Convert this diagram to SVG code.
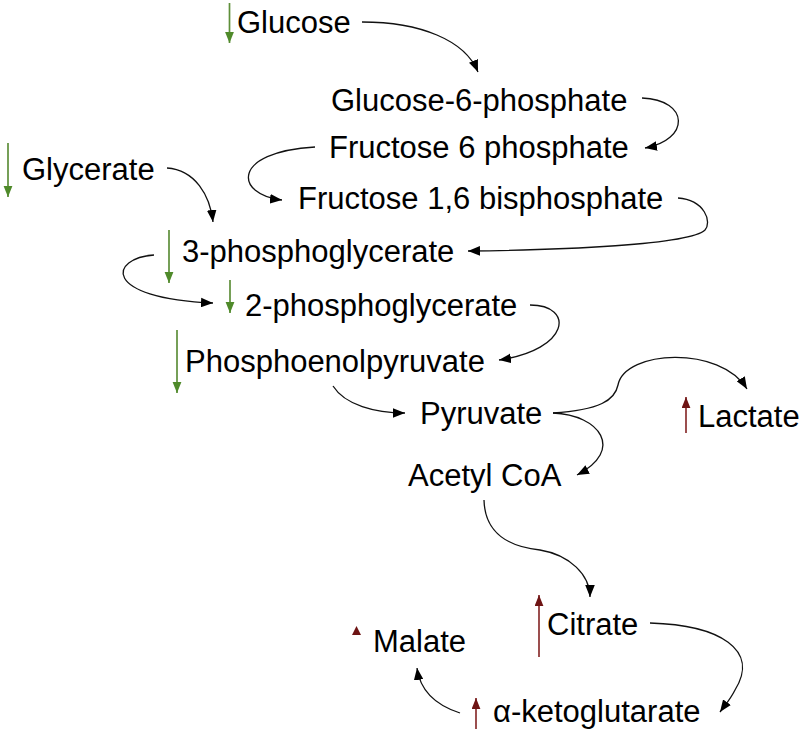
<svg xmlns="http://www.w3.org/2000/svg" width="800" height="732" viewBox="0 0 800 732">
<style>
text{font-family:"Liberation Sans",Arial,sans-serif;font-size:31px;fill:#000}
.c{fill:none;stroke:#111;stroke-width:1.3}
.g{stroke:#5e8f3a;stroke-width:1.7;fill:none}
.r{stroke:#8a3030;stroke-width:1.7;fill:none}
</style>
<defs>
<marker id="ab" viewBox="0 0 10 8" refX="10" refY="4" markerWidth="12" markerHeight="10" markerUnits="userSpaceOnUse" orient="auto"><path d="M0,0 L10,4 L0,8 z" fill="#000"/></marker>
<marker id="ag" viewBox="0 0 10 8" refX="10" refY="4" markerWidth="11" markerHeight="10" markerUnits="userSpaceOnUse" orient="auto"><path d="M0,0 L10,4 L0,8 z" fill="#4f8a2a"/></marker>
<marker id="ar" viewBox="0 0 10 8" refX="10" refY="4" markerWidth="11" markerHeight="9" markerUnits="userSpaceOnUse" orient="auto"><path d="M0,0 L10,4 L0,8 z" fill="#6e1414"/></marker>
</defs>
<g id="connectors">
<path class="c" marker-end="url(#ab)" d="M362,22 C420,22 465,40 478,72"/>
<path class="c" marker-end="url(#ab)" d="M642,98 C690,100 690,140 645,148"/>
<path class="c" marker-end="url(#ab)" d="M315,147 C230,152 235,195 282,200"/>
<path class="c" marker-end="url(#ab)" d="M678,198 C705,200 712,222 705,230 C690,245 560,250 468,251"/>
<path class="c" marker-end="url(#ab)" d="M167,168 C195,170 210,195 213,222"/>
<path class="c" marker-end="url(#ab)" d="M154,255 C110,258 100,298 213,303"/>
<path class="c" marker-end="url(#ab)" d="M530,305 C575,305 570,350 499,360"/>
<path class="c" marker-end="url(#ab)" d="M333,386 C345,405 375,413 405,413"/>
<path class="c" marker-end="url(#ab)" d="M553,413 C600,410 615,400 618,385 C625,350 720,345 747,389"/>
<path class="c" marker-end="url(#ab)" d="M553,413 C600,415 625,450 577,475"/>
<path class="c" marker-end="url(#ab)" d="M484,500 C485,540 520,548 540,550 C570,555 590,575 590,597"/>
<path class="c" marker-end="url(#ab)" d="M650,623 C720,625 760,650 735,690 C730,700 725,705 720,712"/>
<path class="c" marker-end="url(#ab)" d="M460,713 C435,705 420,690 417,668"/>
</g>
<g id="glucose"><line class="g" x1="229.5" y1="3" x2="229.5" y2="43" marker-end="url(#ag)"/><text x="237" y="33">Glucose</text></g>
<g id="g6p"><text x="331" y="111">Glucose-6-phosphate</text></g>
<g id="f6p"><text x="329" y="158">Fructose 6 phosphate</text></g>
<g id="f16bp"><text x="298" y="209">Fructose 1,6 bisphosphate</text></g>
<g id="glycerate"><line class="g" x1="8" y1="143" x2="8" y2="197" marker-end="url(#ag)"/><text x="22" y="180">Glycerate</text></g>
<g id="pg3"><line class="g" x1="169" y1="230" x2="169" y2="283" marker-end="url(#ag)"/><text x="182" y="262">3-phosphoglycerate</text></g>
<g id="pg2"><line class="g" x1="230" y1="280" x2="230" y2="313" marker-end="url(#ag)"/><text x="245" y="316">2-phosphoglycerate</text></g>
<g id="pep"><line class="g" x1="177" y1="330" x2="177" y2="393" marker-end="url(#ag)"/><text x="185" y="372">Phosphoenolpyruvate</text></g>
<g id="pyruvate"><text x="420" y="424">Pyruvate</text></g>
<g id="lactate"><line class="r" x1="686" y1="433" x2="686" y2="397" marker-end="url(#ar)"/><text x="698" y="427">Lactate</text></g>
<g id="acetylcoa"><text x="408" y="486">Acetyl CoA</text></g>
<g id="citrate"><line class="r" x1="539" y1="657" x2="539" y2="595" marker-end="url(#ar)"/><text x="547" y="635">Citrate</text></g>
<g id="malate"><polygon points="356.5,626 352,635 361,635" fill="#6e1414"/><text x="373" y="652">Malate</text></g>
<g id="akg"><line class="r" x1="476" y1="729" x2="476" y2="698" marker-end="url(#ar)"/><text x="493" y="722">α-ketoglutarate</text></g>
</svg>
